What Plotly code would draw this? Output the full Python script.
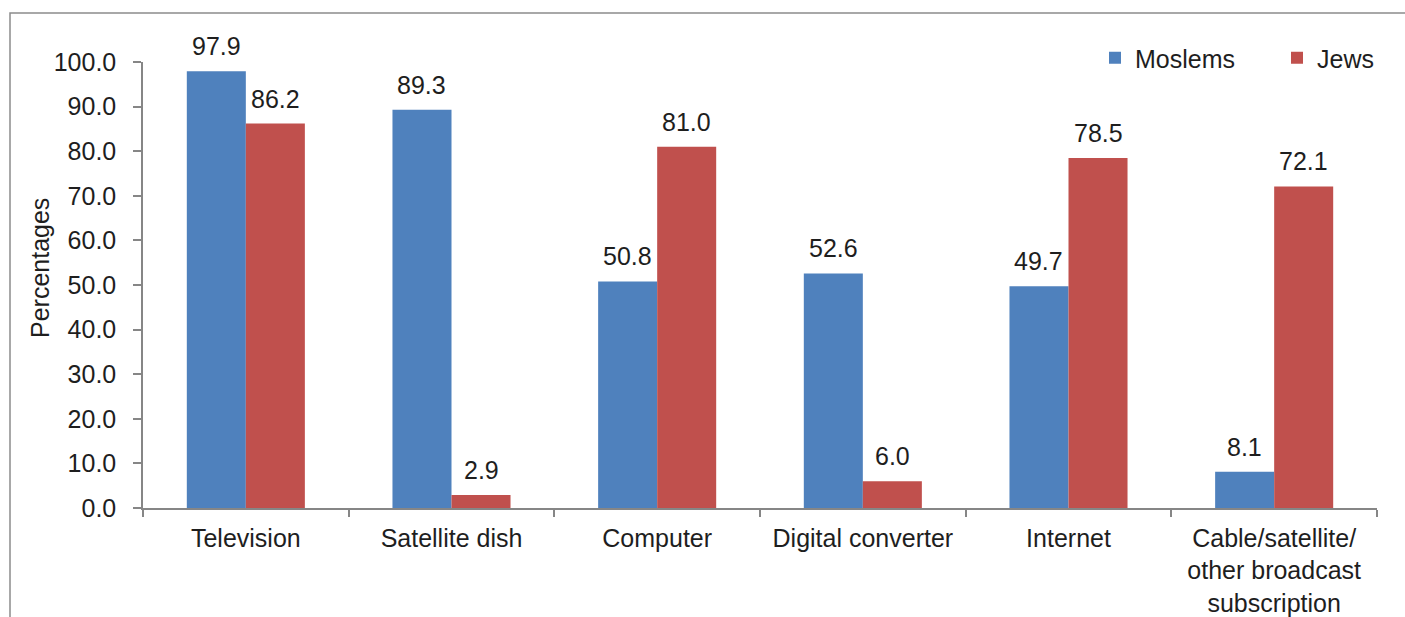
import plotly.graph_objects as go

categories = ["Television", "Satellite dish", "Computer", "Digital converter",
              "Internet", "Cable/satellite/<br>other broadcast<br>subscription"]
moslems = [97.9, 89.3, 50.8, 52.6, 49.7, 8.1]
jews = [86.2, 2.9, 81.0, 6.0, 78.5, 72.1]
y_ticks = [0, 10, 20, 30, 40, 50, 60, 70, 80, 90, 100]

W, H = 1405, 617
ML, MR, MT, MB = 143, 28, 62, 109
BARGAP = 0.426
FONT = "Liberation Sans, Arial, sans-serif"
TXT = "#1e1e1e"
AX = "#868686"
BLUE = "#4F81BD"
RED = "#C0504D"
FS = 25

plot_w = W - ML - MR
plot_h = H - MT - MB

fig = go.Figure()
fig.add_trace(go.Bar(name="Moslems", x=categories, y=moslems,
                     marker=dict(color=BLUE, line=dict(width=0))))
fig.add_trace(go.Bar(name="Jews", x=categories, y=jews,
                     marker=dict(color=RED, line=dict(width=0))))

# value labels above each bar
bar_w = plot_w / len(categories) * (1 - BARGAP) / 2
for series, sign in ((moslems, -1), (jews, 1)):
    for cat, v in zip(categories, series):
        fig.add_annotation(x=cat, y=v, text=f"{v:.1f}", showarrow=False,
                           xshift=sign * bar_w / 2, yshift=9,
                           yanchor="bottom", xanchor="center",
                           font=dict(family=FONT, size=FS, color=TXT))

# y-axis title
fig.add_annotation(xref="paper", yref="paper", x=(40 - ML) / plot_w,
                   y=(H - MB - 268) / plot_h, text="Percentages",
                   textangle=-90, showarrow=False,
                   xanchor="center", yanchor="middle",
                   font=dict(family=FONT, size=25, color=TXT))

# outer frame of the chart area
fig.add_shape(type="rect", xref="paper", yref="paper",
              x0=(10 - ML) / plot_w, x1=(W + 20 - ML) / plot_w,
              y0=-(MB + 20) / plot_h,
              y1=1 + (MT - 13) / plot_h,
              line=dict(color="#8c8c8c", width=1.5), layer="below")

fig.update_layout(
    width=W, height=H,
    margin=dict(l=ML, r=MR, t=MT, b=MB, autoexpand=False),
    paper_bgcolor="white", plot_bgcolor="white",
    barmode="group", bargap=BARGAP, bargroupgap=0,
    font=dict(family=FONT, size=FS, color=TXT),
    showlegend=True,
    legend=dict(orientation="h", x=(1095 - ML) / plot_w, xanchor="left",
                y=1 + (MT - 58) / plot_h, yanchor="middle",
                font=dict(family=FONT, size=FS, color=TXT),
                itemwidth=30, entrywidth=137, entrywidthmode="pixels",
                itemsizing="constant", bgcolor="rgba(0,0,0,0)",
                traceorder="normal"),
    xaxis=dict(showline=True, linecolor=AX, linewidth=1.5, automargin=False,
               ticks="outside", tickson="boundaries", ticklen=7,
               tickcolor=AX, tickwidth=1.5, showgrid=False,
               ticklabelstandoff=7,
               tickfont=dict(family=FONT, size=FS, color=TXT)),
    yaxis=dict(range=[0, 100], tickvals=y_ticks, tickformat=".1f",
               showline=True, linecolor=AX, linewidth=1.5, automargin=False,
               ticks="outside", ticklen=8, tickcolor=AX, tickwidth=1.5,
               showgrid=False, zeroline=False,
               ticklabelstandoff=12,
               tickfont=dict(family=FONT, size=FS, color=TXT)),
)

fig.write_html("out.html")
